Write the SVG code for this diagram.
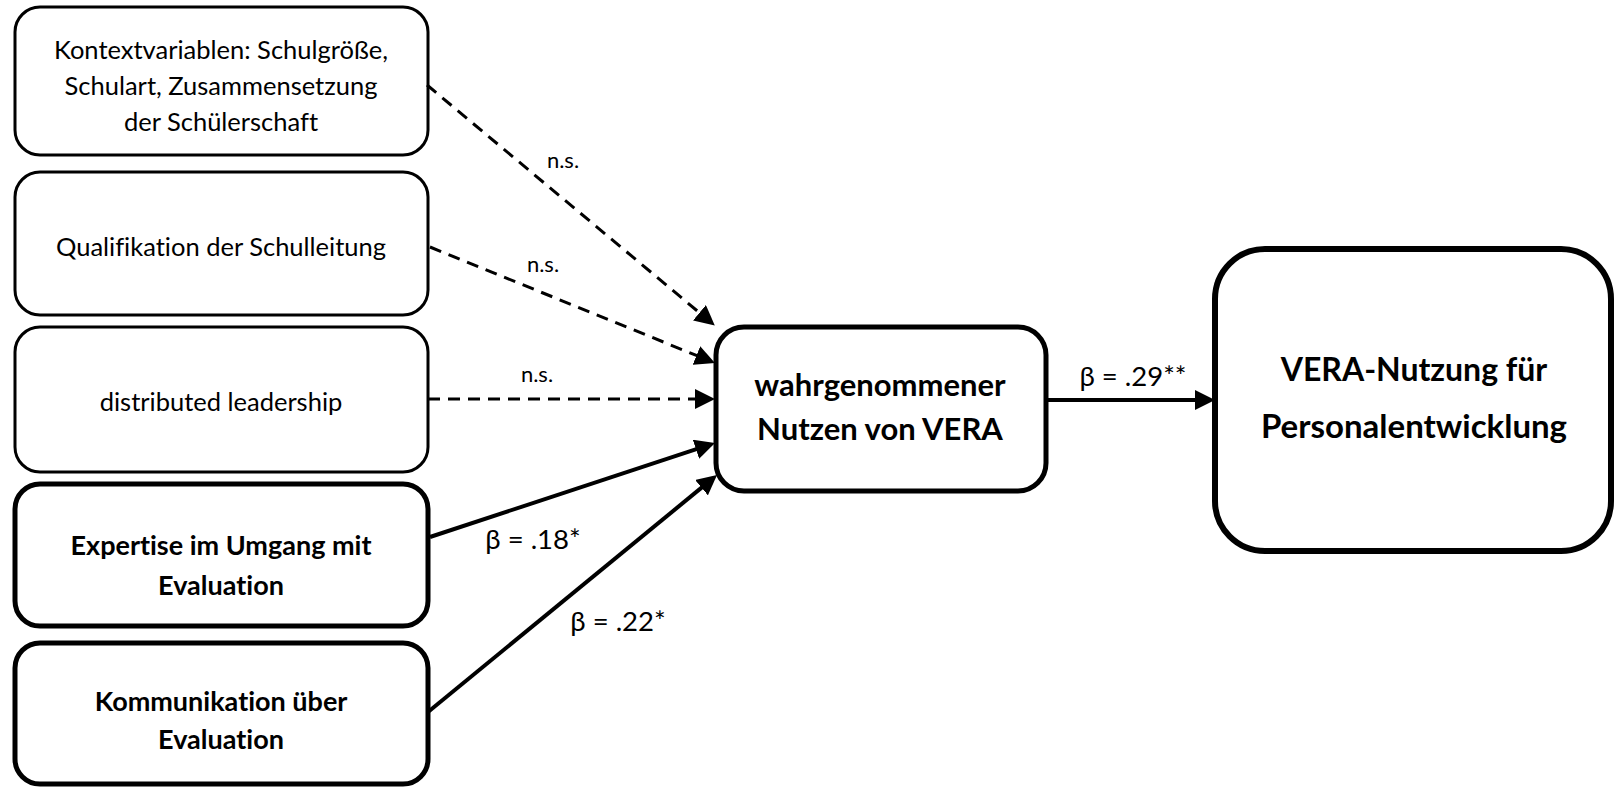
<svg xmlns="http://www.w3.org/2000/svg" width="1614" height="787" viewBox="0 0 1614 787">
<style>
.box{fill:#fff;stroke:#000}
.thin{stroke-width:3}
.thick{stroke-width:5}
.t{font-family:Lato,"Open Sans",sans-serif;fill:#000;text-anchor:middle;font-variant-ligatures:none}
.reg{font-size:25.5px}
.bl{font-size:27px;font-weight:bold}
.b{font-weight:bold}
.lbl{font-size:27.5px}
.ns{font-size:22px}
.dash{stroke:#000;stroke-width:3;fill:none;stroke-dasharray:12 8}
.solid{stroke:#000;stroke-width:4;fill:none}
</style>
<defs>
<marker id="ah" markerUnits="userSpaceOnUse" markerWidth="20" markerHeight="20" refX="2" refY="10" orient="auto" viewBox="0 0 20 20">
<path d="M0,0 L20,10 L0,20 Z" fill="#000"/>
</marker>
</defs>
<rect width="1614" height="787" fill="#fff"/>
<g id="n1">
<rect class="box thin" x="15" y="7" width="413" height="148" rx="25"/>
<text class="t reg" x="221" y="59">Kontextvariablen: Schulgröße,</text>
<text class="t reg" x="221" y="95">Schulart, Zusammensetzung</text>
<text class="t reg" x="221" y="131">der Schülerschaft</text>
</g>
<g id="n2">
<rect class="box thin" x="15" y="172" width="413" height="143" rx="25"/>
<text class="t reg" x="221" y="256">Qualifikation der Schulleitung</text>
</g>
<g id="n3">
<rect class="box thin" x="15" y="327" width="413" height="145" rx="25"/>
<text class="t reg" x="221" y="411">distributed leadership</text>
</g>
<g id="n4">
<rect class="box thick" x="15" y="484" width="413" height="142" rx="25"/>
<text class="t bl" x="221" y="555">Expertise im Umgang mit</text>
<text class="t bl" x="221" y="595">Evaluation</text>
</g>
<g id="n5">
<rect class="box thick" x="15" y="643" width="413" height="141" rx="25"/>
<text class="t bl" x="221" y="711">Kommunikation über</text>
<text class="t bl" x="221" y="749">Evaluation</text>
</g>
<g id="n6">
<rect class="box thick" x="716" y="327" width="330" height="164" rx="28"/>
<text class="t b" style="font-size:31px" x="880" y="396">wahrgenommener</text>
<text class="t b" style="font-size:31px" x="880" y="440">Nutzen von VERA</text>
</g>
<g id="n7">
<rect class="box" style="stroke-width:6" x="1215" y="249" width="396" height="302" rx="50"/>
<text class="t b" style="font-size:32px" x="1414" y="381">VERA-Nutzung für</text>
<text class="t b" style="font-size:33px" x="1414" y="438">Personalentwicklung</text>
</g>
<g id="connectors">
<line class="dash" x1="427" y1="85" x2="701" y2="314" marker-end="url(#ah)"/>
<line class="dash" x1="430" y1="247" x2="698.3" y2="356.2" marker-end="url(#ah)"/>
<line class="dash" x1="428" y1="399" x2="697" y2="399" marker-end="url(#ah)"/>
<line class="solid" x1="430" y1="537" x2="697.9" y2="448.6" marker-end="url(#ah)"/>
<line class="solid" x1="428" y1="712" x2="703.1" y2="486.4" marker-end="url(#ah)"/>
<line class="solid" x1="1048" y1="400" x2="1197" y2="400" marker-end="url(#ah)"/>
<text class="t ns" x="563" y="168">n.s.</text>
<text class="t ns" x="543" y="272">n.s.</text>
<text class="t ns" x="537" y="382">n.s.</text>
<text class="t lbl" x="533" y="549">β = .18*</text>
<text class="t lbl" x="618" y="631">β = .22*</text>
<text class="t lbl" x="1133" y="386">β = .29**</text>
</g>
</svg>
